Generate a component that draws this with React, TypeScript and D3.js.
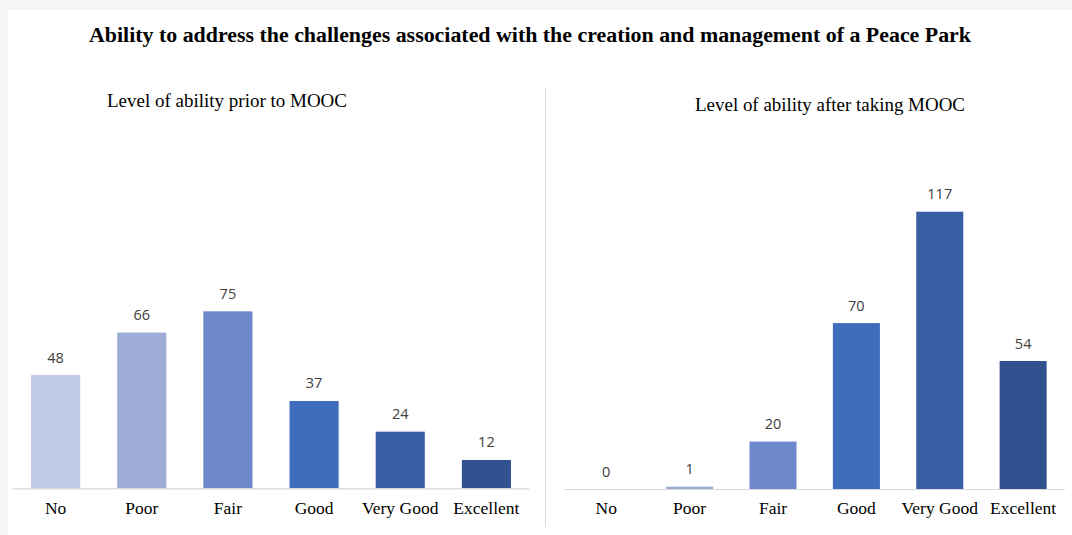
import React, { useEffect } from "react";
import * as d3 from "d3";

const categories = ["No", "Poor", "Fair", "Good", "Very Good", "Excellent"];
const priorValues = [48, 66, 75, 37, 24, 12];
const afterValues = [0, 1, 20, 70, 117, 54];
const barColors = ["#c0c9e5", "#9eadd8", "#6e89cb", "#3f6dbc", "#3a5ea5", "#30528e"];

const titleText = "Ability to address the challenges associated with the creation and management of a Peace Park";
const leftTitle = "Level of ability prior to MOOC";
const rightTitle = "Level of ability after taking MOOC";

const W = 1072;
const H = 535;

type PanelProps = {
  values: number[];
  x0: number;
  x1: number;
  baseline: number;
  yMax: number;
  pxPerUnit: number;
  padInner: number;
  padOuter: number;
};

function Panel({ values, x0, x1, baseline, yMax, pxPerUnit, padInner, padOuter }: PanelProps) {
  const x = d3.scaleBand<string>().domain(categories).range([x0, x1]).paddingInner(padInner).paddingOuter(padOuter);
  const y = d3.scaleLinear().domain([0, yMax]).range([baseline, baseline - yMax * pxPerUnit]);
  return (
    <g>
      {values.map((v, i) => {
        const c = categories[i];
        const bx = x(c) as number;
        const top = y(v);
        return (
          <g key={c}>
            {v > 0 && (
              <rect x={bx} y={top} width={x.bandwidth()} height={baseline - top} fill={barColors[i]} />
            )}
            <text
              x={bx + x.bandwidth() / 2}
              y={top - 12.5}
              textAnchor="middle"
              fontFamily="'Open Sans', sans-serif"
              fontSize={14.5}
              fill="#404040"
            >
              {v}
            </text>
            <text
              x={bx + x.bandwidth() / 2}
              y={513.5}
              textAnchor="middle"
              fontFamily="'Liberation Serif', serif"
              fontSize={17.5}
              fill="#000"
            >
              {c}
            </text>
          </g>
        );
      })}
      <line x1={x0} x2={x1} y1={baseline + 0.5} y2={baseline + 0.5} stroke="#d9d9d9" strokeWidth={1.2} />
    </g>
  );
}

export default function App() {
  useEffect(() => {
    document.body.style.margin = "0";
  }, []);
  return (
    <svg width={W} height={H} style={{ display: "block", position: "absolute", left: 0, top: 0 }}>
      <rect x={0} y={0} width={W} height={H} fill="#f5f5f5" />
      <rect x={8} y={10} width={W - 8} height={H - 10} fill="#ffffff" />
      <text
        x={530}
        y={42}
        textAnchor="middle"
        fontFamily="'Liberation Serif', serif"
        fontWeight="bold"
        fontSize={20}
        textLength={882}
        lengthAdjust="spacingAndGlyphs"
        fill="#000"
      >
        {titleText}
      </text>
      <text
        x={227}
        y={106.5}
        textAnchor="middle"
        fontFamily="'Liberation Serif', serif"
        fontSize={19.5}
        textLength={240}
        lengthAdjust="spacingAndGlyphs"
        fill="#000"
      >
        {leftTitle}
      </text>
      <text
        x={830}
        y={111}
        textAnchor="middle"
        fontFamily="'Liberation Serif', serif"
        fontSize={19.5}
        textLength={270}
        lengthAdjust="spacingAndGlyphs"
        fill="#000"
      >
        {rightTitle}
      </text>
      <line x1={545.5} x2={545.5} y1={88} y2={527} stroke="#d9d9d9" strokeWidth={1} />
      <Panel values={priorValues} x0={12.7} x1={529.3} baseline={488.3} yMax={80} pxPerUnit={2.36} padInner={0.43} padOuter={0.213} />
      <Panel values={afterValues} x0={564.4} x1={1065} baseline={489} yMax={120} pxPerUnit={2.37} padInner={0.436} padOuter={0.22} />
    </svg>
  );
}
